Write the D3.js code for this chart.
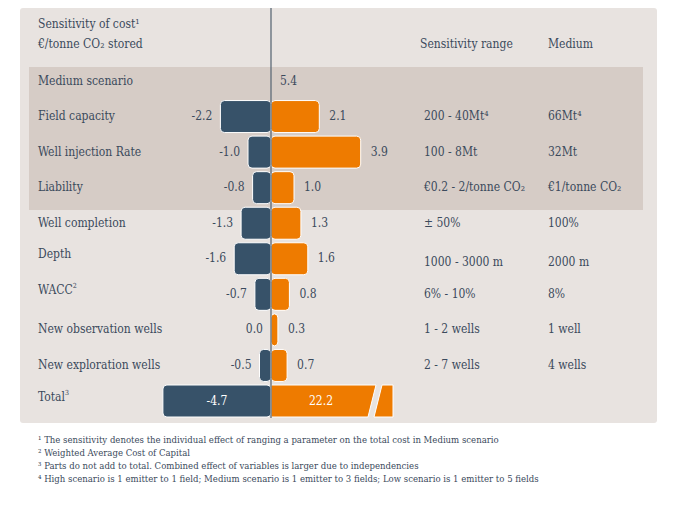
<!DOCTYPE html>
<html><head><meta charset="utf-8">
<script src="https://cdn.jsdelivr.net/npm/d3@7"></script>
<style>body{margin:0;background:#fff}svg{display:block;font-family:"DejaVu Serif Condensed","DejaVu Serif",serif}</style>
</head><body><svg id="c" width="698" height="516"></svg>
<script>
const factors = ["Field capacity","Well injection Rate","Liability","Well completion","Depth","WACC","New observation wells","New exploration wells","Total"];
const sups = ["","","","","","2","","","3"];
const lows = [-2.2,-1.0,-0.8,-1.3,-1.6,-0.7,0.0,-0.5,-4.7];
const highs = [2.1,3.9,1.0,1.3,1.6,0.8,0.3,0.7,22.2];
const ranges = ["200 - 40Mt⁴","100 - 8Mt","€0.2 - 2/tonne CO₂","± 50%","1000 - 3000 m","6% - 10%","1 - 2 wells","2 - 7 wells",""];
const mediums = ["66Mt⁴","32Mt","€1/tonne CO₂","100%","2000 m","8%","1 well","4 wells",""];
const mediumScenario = 5.4;
const footnotes = ["¹ The sensitivity denotes the individual effect of ranging a parameter on the total cost in Medium scenario",
  "² Weighted Average Cost of Capital",
  "³ Parts do not add to total. Combined effect of variables is larger due to independencies",
  "⁴ High scenario is 1 emitter to 1 field; Medium scenario is 1 emitter to 3 fields; Low scenario is 1 emitter to 5 fields"];

const svg = d3.select("#c");
const txt = "#3b4a5c", navy = "#375269", orange = "#ee7b00";
const x = d3.scaleLinear().domain([0, 1]).range([271, 294]);
const rowY = d3.scalePoint().domain(["Medium scenario", ...factors]).range([81, 401]);
const bh = 32;

svg.append("rect").attr("x", 20).attr("y", 8).attr("width", 637).attr("height", 415).attr("rx", 3).attr("fill", "#e8e3e0");
svg.append("rect").attr("x", 29).attr("y", 67).attr("width", 614).attr("height", 143).attr("fill", "#d6ccc6");

const t = (xx, yy, s, o = {}) => svg.append("text").attr("x", xx).attr("y", yy).attr("fill", o.fill || txt)
  .attr("font-size", o.size || 12).attr("text-anchor", o.anchor || "start").attr("dominant-baseline", "middle").text(s);

t(38, 24, "Sensitivity of cost¹");
t(38, 44, "€/tonne CO₂ stored");
t(420, 44, "Sensitivity range");
t(548, 44, "Medium");
t(38, rowY("Medium scenario"), "Medium scenario");
t(280, rowY("Medium scenario"), mediumScenario.toFixed(1));

const brk = 370;
factors.forEach((f, i) => {
  const cy = rowY(f), isTotal = f === "Total", isDepth = f === "Depth";
  const lab = t(38, cy - (isDepth || isTotal || sups[i] ? 4 : 0), f);
  if (sups[i]) lab.append("tspan").attr("font-size", 7).attr("dy", -4).text(sups[i]);
  if (lows[i] < 0) svg.append("rect").attr("x", x(lows[i])).attr("y", cy - bh / 2).attr("width", x(0) - x(lows[i]))
    .attr("height", bh).attr("rx", 4).attr("fill", navy).attr("stroke", "#fff").attr("stroke-width", 1);
  if (isTotal) {
    svg.append("path").attr("d", `M${x(0)},${cy - bh / 2}H${brk + 6}L${brk - 2},${cy + bh / 2}H${x(0)}Z`)
      .attr("fill", orange).attr("stroke", "#fff");
    svg.append("path").attr("d", `M${brk + 12},${cy - bh / 2}H${393}V${cy + bh / 2}H${brk + 4}Z`)
      .attr("fill", orange).attr("stroke", "#fff");
    t((x(lows[i]) + x(0)) / 2, cy, lows[i].toFixed(1), { fill: "#fff", anchor: "middle" });
    t(321, cy, highs[i].toFixed(1), { fill: "#fff", anchor: "middle" });
  } else {
    svg.append("rect").attr("x", x(0)).attr("y", cy - bh / 2).attr("width", x(highs[i]) - x(0))
      .attr("height", bh).attr("rx", 4).attr("fill", orange).attr("stroke", "#fff").attr("stroke-width", 1);
    t(x(Math.min(lows[i], 0)) - 8, cy, lows[i].toFixed(1), { anchor: "end" });
    t(x(highs[i]) + 10, cy, highs[i].toFixed(1));
  }
  t(424, cy + (isDepth ? 4 : 0), ranges[i]);
  t(548, cy + (isDepth ? 4 : 0), mediums[i]);
});

svg.append("line").attr("x1", 271).attr("x2", 271).attr("y1", 8).attr("y2", 418).attr("stroke", "#5d6b78").attr("stroke-width", 1.3);

footnotes.forEach((s, i) => t(38, 440 + i * 13.3, s, { size: 9.5 }));
</script></body></html>
